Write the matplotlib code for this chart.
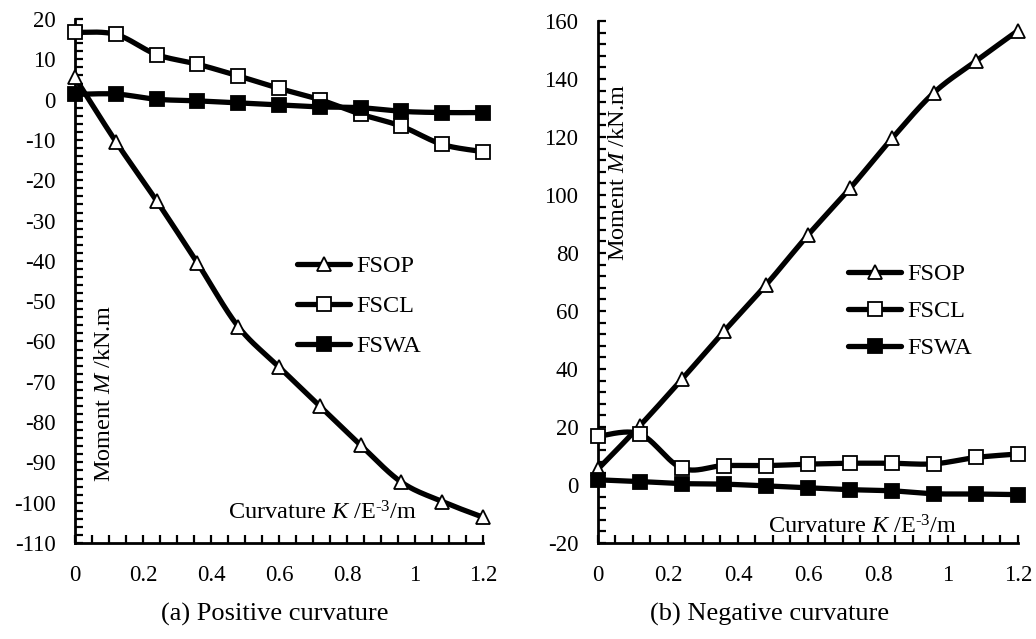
import numpy as np
import matplotlib
matplotlib.use("Agg")
import matplotlib.pyplot as plt
from matplotlib.ticker import MultipleLocator, FuncFormatter
from matplotlib.lines import Line2D

plt.rcParams['font.family'] = ['Liberation Serif', 'DejaVu Serif']
plt.rcParams['mathtext.fontset'] = 'custom'
plt.rcParams['mathtext.it'] = 'Liberation Serif:italic'
plt.rcParams['mathtext.rm'] = 'Liberation Serif'
plt.rcParams['axes.unicode_minus'] = False

curvature = [0, 0.12, 0.24, 0.36, 0.48, 0.60, 0.72, 0.84, 0.96, 1.08, 1.20]

# Positive curvature
pos_fsop = [5.5, -10.4, -25.1, -40.5, -56.3, -66.3, -76.0, -85.7, -94.9, -99.7, -103.6]
pos_fscl = [16.7, 16.2, 11.2, 8.8, 5.9, 2.8, 0.0, -3.6, -6.6, -11.1, -12.9]
pos_fswa = [1.3, 1.4, 0.1, -0.3, -0.8, -1.3, -1.8, -2.0, -2.9, -3.2, -3.2]

# Negative curvature
neg_fsop = [5.5, 20.5, 36.5, 53.0, 69.0, 86.2, 102.3, 119.5, 135.3, 146.2, 156.7]
neg_fscl = [16.8, 17.6, 5.8, 6.7, 6.7, 7.2, 7.5, 7.5, 7.3, 9.5, 10.7]
neg_fswa = [1.8, 1.2, 0.5, 0.3, -0.3, -1.0, -1.6, -2.0, -3.0, -3.1, -3.3]

series_names = ['FSOP', 'FSCL', 'FSWA']
markers = {'FSOP': dict(marker='^', mfc='white'),
           'FSCL': dict(marker='s', mfc='white'),
           'FSWA': dict(marker='s', mfc='black')}


def smooth(x, y, n=30):
    """Bezier smoothing through the given points (Catmull-Rom style)."""
    x = np.asarray(x, float)
    y = np.asarray(y, float)
    px = np.concatenate([[x[0]], x, [x[-1]]])
    py = np.concatenate([[y[0]], y, [y[-1]]])
    xs, ys = [], []
    t = np.linspace(0, 1, n)
    for i in range(1, len(px) - 2):
        p0 = np.array([px[i], py[i]])
        p3 = np.array([px[i + 1], py[i + 1]])
        p1 = p0 + (np.array([px[i + 1], py[i + 1]]) - np.array([px[i - 1], py[i - 1]])) / 6
        p2 = p3 - (np.array([px[i + 2], py[i + 2]]) - np.array([px[i], py[i]])) / 6
        b = ((1 - t) ** 3)[:, None] * p0 + (3 * (1 - t) ** 2 * t)[:, None] * p1 \
            + (3 * (1 - t) * t ** 2)[:, None] * p2 + (t ** 3)[:, None] * p3
        xs.append(b[:, 0])
        ys.append(b[:, 1])
    return np.concatenate(xs), np.concatenate(ys)


fig = plt.figure(figsize=(10.36, 6.39), dpi=100)
ax1 = fig.add_axes([0.0724, 0.1502, 0.3938, 0.8200])
ax2 = fig.add_axes([0.5772, 0.1502, 0.4054, 0.8169])

LW = 3.8
MS = 9.5
MEW = 1.3


def draw(ax, data):
    handles = []
    for name, vals in zip(series_names, data):
        sx, sy = smooth(curvature, vals)
        ax.plot(sx, sy, color='black', lw=LW, solid_capstyle='round', clip_on=False, zorder=2)
        ax.plot(curvature, vals, linestyle='none', color='black', ms=MS, mew=MEW,
                clip_on=False, zorder=3, **markers[name])
        handles.append(Line2D([0], [0], color='black', lw=LW, ms=MS, mew=MEW,
                              solid_capstyle='round', **markers[name]))
    return handles


h1 = draw(ax1, [pos_fsop, pos_fscl, pos_fswa])
h2 = draw(ax2, [neg_fsop, neg_fscl, neg_fswa])

for ax in (ax1, ax2):
    ax.set_xlim(0, 1.2)
    ax.xaxis.set_major_locator(MultipleLocator(0.2))
    ax.xaxis.set_minor_locator(MultipleLocator(0.05))
    ax.spines['top'].set_visible(False)
    ax.spines['right'].set_visible(False)
    ax.spines['left'].set_linewidth(2)
    ax.spines['bottom'].set_linewidth(2)
    ax.tick_params(which='both', direction='in', width=1.6, labelsize=16.5)
    ax.tick_params(which='major', length=6)
    ax.tick_params(which='minor', length=6)
    ax.tick_params(axis='x', pad=16)
    ax.tick_params(axis='y', pad=14)
    ax.xaxis.set_major_formatter(FuncFormatter(lambda v, p: f'{v:g}'))

ax1.set_ylim(-110, 20)
ax1.yaxis.set_major_locator(MultipleLocator(10))
ax1.yaxis.set_minor_locator(MultipleLocator(2))

ax2.set_ylim(-20, 160)
ax2.yaxis.set_major_locator(MultipleLocator(20))
ax2.yaxis.set_minor_locator(MultipleLocator(4))

ylab = r'Moment $\it{M}$ /kN.m'
xlab = r'Curvature $\it{K}$ /E$^{\text{-3}}$/m'
fs = 17.5

# axis titles placed inside the plotting area
fig.text(104 / 1036, 1 - 393 / 639, ylab, rotation=90, ha='center', va='center', fontsize=fs)
fig.text(322 / 1036, 1 - 513 / 639, xlab, ha='center', va='center', fontsize=fs)
fig.text(619 / 1036, 1 - 172 / 639, ylab, rotation=90, ha='center', va='center', fontsize=fs)
fig.text(862 / 1036, 1 - 527 / 639, xlab, ha='center', va='center', fontsize=fs)

leg_kw = dict(frameon=False, fontsize=fs, numpoints=1, handlelength=2.2,
              handletextpad=0.25, borderpad=0, borderaxespad=0)
fig.legend(h1, series_names, loc='upper left', bbox_to_anchor=(297 / 1036, 1 - 255 / 639),
           labelspacing=0.74, **leg_kw)
fig.legend(h2, series_names, loc='upper left', bbox_to_anchor=(848 / 1036, 1 - 263 / 639),
           labelspacing=0.62, **leg_kw)

fig.text(275 / 1036, 1 - 614 / 639, '(a) Positive curvature', ha='center', va='center', fontsize=19)
fig.text(770 / 1036, 1 - 614 / 639, '(b) Negative curvature', ha='center', va='center', fontsize=19)

fig.savefig('out.png', dpi=100)
